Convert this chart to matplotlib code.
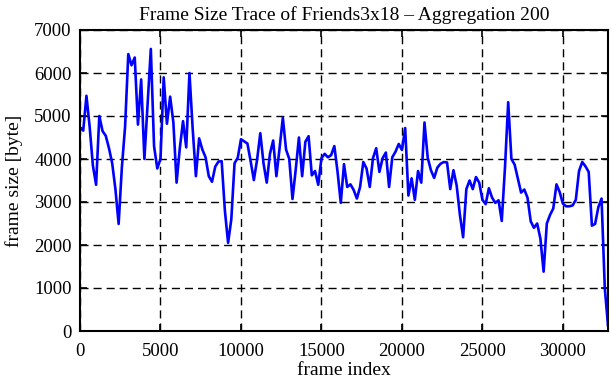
import matplotlib
matplotlib.use("Agg")
import matplotlib.pyplot as plt
import numpy as np

agg = 200
frame_size = [
    4740, 4660, 5470, 4750, 3850, 3400, 5000, 4650, 4540, 4250,
    3900, 3300, 2490, 3800, 4750, 6440, 6180, 6360, 4800, 5850,
    4000, 5300, 6560, 4300, 3780, 4000, 5900, 4820, 5450, 4850,
    3450, 4250, 4880, 4270, 6000, 4700, 3600, 4480, 4220, 4040,
    3600, 3470, 3820, 3940, 3950, 2800, 2050, 2600, 3900, 4030,
    4460, 4410, 4360, 3950, 3510, 3980, 4600, 3900, 3450, 4120,
    4430, 3600, 4260, 4960, 4220, 4000, 3070, 3750, 4500, 3600,
    4400, 4530, 3620, 3720, 3400, 4020, 4120, 4040, 4090, 4300,
    3700, 2980, 3880, 3350, 3410, 3280, 3080, 3350, 3930, 3780,
    3350, 4020, 4250, 3700, 4020, 4150, 3350, 4040, 4170, 4350,
    4210, 4720, 3150, 3550, 3050, 3720, 3450, 4850, 4030, 3740,
    3560, 3800, 3890, 3930, 3920, 3300, 3740, 3380, 2700, 2180,
    3300, 3500, 3300, 3580, 3450, 3050, 2950, 3320, 3100, 2980,
    3040, 2560, 3800, 5320, 4000, 3870, 3550, 3220, 3290, 3100,
    2550, 2400, 2500, 2150, 1380, 2500, 2700, 2850, 3410, 3230,
    2960, 2900, 2900, 2920, 3050, 3720, 3930, 3830, 3700, 2450,
    2490, 2880, 3080, 1000, 130,
]
frame_index = [i * agg for i in range(len(frame_size))]

x_ticks = [0, 5000, 10000, 15000, 20000, 25000, 30000]
y_ticks = [0, 1000, 2000, 3000, 4000, 5000, 6000, 7000]

plt.rcParams['font.family'] = ['Liberation Serif', 'DejaVu Serif']

fig = plt.figure(figsize=(6.11, 3.80), dpi=100)
ax = fig.add_axes([80/611, 1 - 331/380, 528/611, 301/380])

ax.plot(frame_index, frame_size, color='#0000ff', linewidth=1.9)

ax.set_xlim(0, frame_index[-1])
ax.set_ylim(0, 7000)
ax.set_xticks(x_ticks)
ax.set_yticks(y_ticks)
ax.grid(True, color='black', linestyle=(0, (5.8, 3.6)), linewidth=1.0)
ax.tick_params(direction='in', top=True, right=True, length=5, width=1.2,
               labelsize=13.5)
ax.tick_params(axis='x', pad=9)
ax.tick_params(axis='y', pad=6)
for s in ax.spines.values():
    s.set_linewidth(1.5)

ax.set_title('Frame Size Trace of Friends3x18 \u2013 Aggregation 200', fontsize=14, pad=7)
ax.set_xlabel('frame index', fontsize=14, labelpad=1)
ax.set_ylabel('frame size [byte]', fontsize=14, labelpad=8)

fig.savefig('out.png', dpi=100)
